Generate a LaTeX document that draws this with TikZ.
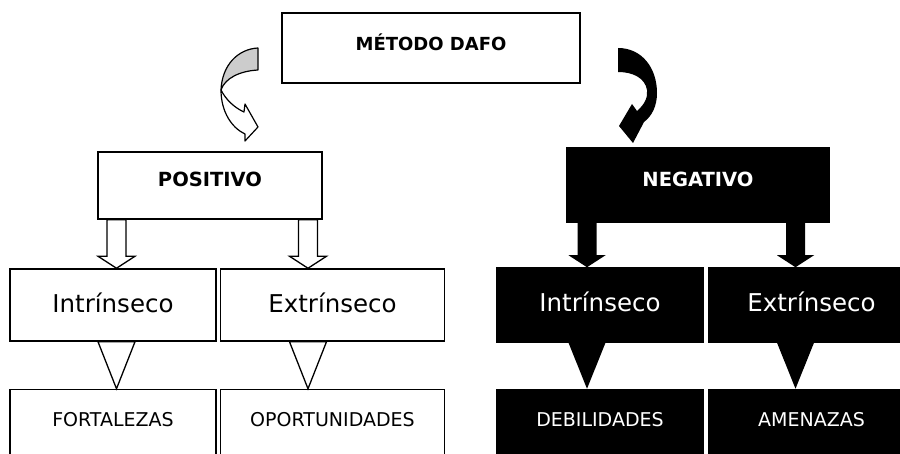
\documentclass[tikz,border=0pt]{standalone}
\usepackage{fontspec}
\setmainfont{DejaVu Sans}
\usetikzlibrary{positioning,calc}

\tikzset{
 wbox/.style={draw,line width=1.5pt,fill=white,inner sep=0pt},
 bbox/.style={draw=black,line width=1.5pt,fill=black,text=white,inner sep=0pt},
 midbox/.style={minimum width=206pt,minimum height=72pt,text height=44pt,text depth=28pt,font=\fontsize{24.5}{28}\selectfont},
 lowbox/.style={minimum width=206pt,text height=37pt,text depth=45pt,font=\fontsize{19}{22}\selectfont},
 topbox/.style={font=\fontsize{19.5}{23}\selectfont\bfseries},
 hollow/.style={draw,line width=1.3pt,fill=white},
 blk/.style={fill=black},
 curvy/.style={draw,line width=1.2pt,line join=round}
}

\newcommand{\fatarrow}[4]{%
 \path[#1] let \p1=(#2.south), \p2=(#3.north) in
 ({#4pt-9.5pt},\y1) -- ({#4pt-9.5pt},{\y2+12pt}) -- ({#4pt-18.5pt},{\y2+12pt}) -- (#4pt,\y2)
 -- ({#4pt+18.5pt},{\y2+12pt}) -- ({#4pt+9.5pt},{\y2+12pt}) -- ({#4pt+9.5pt},\y1) -- cycle;}
\newcommand{\wedgearrow}[4]{%
 \path[#1] let \p1=(#2.south), \p2=(#3.north) in
 ({#4pt-18.5pt},\y1) -- ({#4pt+18.5pt},\y1) -- (#4pt,\y2) -- cycle;}

\begin{document}
\begin{tikzpicture}[x=1pt,y=-1pt]
 \useasboundingbox (0,0) rectangle (900,454);
 \clip (0,0) rectangle (900,454);

 \node[wbox,topbox,minimum width=298pt,text height=38pt,text depth=32pt,font=\fontsize{18}{21}\selectfont\bfseries] (dafo) at (431,48) {MÉTODO DAFO};
 \node[wbox,topbox,minimum width=224pt,text height=35pt,text depth=32pt] (pos) at (210,185.5) {POSITIVO};
 \node[bbox,topbox,minimum width=262pt,text height=39pt,text depth=35pt] (neg) at (698,185) {NEGATIVO};

 \node[wbox,midbox] (pint) at (113,305) {Intrínseco};
 \node[wbox,midbox,minimum width=224pt] (pext) [right=3pt of pint] {Extrínseco};
 \node[bbox,midbox,text depth=30pt] (nint) at (600,305) {Intrínseco};
 \node[bbox,midbox,text depth=30pt] (next) [right=4pt of nint] {Extrínseco};

 \node[wbox,lowbox] (pfor) [below=47pt of pint] {FORTALEZAS};
 \node[wbox,lowbox,minimum width=224pt] (popo) [below=47pt of pext] {OPORTUNIDADES};
 \node[bbox,lowbox] (ndeb) [below=46pt of nint] {DEBILIDADES};
 \node[bbox,lowbox] (name) [below=46pt of next] {AMENAZAS};

 \fatarrow{hollow}{pos}{pint}{116.5}
 \fatarrow{hollow}{pos}{pext}{308}
 \fatarrow{blk}{neg}{nint}{587}
 \fatarrow{blk}{neg}{next}{795.5}

 \wedgearrow{hollow}{pint}{pfor}{116.5}
 \wedgearrow{hollow}{pext}{popo}{308}
 \wedgearrow{blk}{nint}{ndeb}{587}
 \wedgearrow{blk}{next}{name}{795.5}

 % curved arrows
 \path[curvy,fill=gray!40] (258,48) .. controls (238,49) and (222,65) .. (221,90)
 .. controls (225,78) and (240,71) .. (258,70) -- cycle;
 \path[curvy,fill=white] (221,90) .. controls (221,112) and (232,128) .. (245,134) -- (245,141)
 -- (258,127) -- (245,104) -- (244,112) .. controls (235,108) and (226,100) .. (221,90) -- cycle;
 \fill (618,48) .. controls (642,48) and (657,68) .. (657,93) .. controls (657,106) and (652,116) .. (644,122)
 -- (633,143) -- (619,126) -- (632,104) -- (637,111) .. controls (645,104) and (648,97) .. (647,90)
 .. controls (645,78) and (633,72) .. (618,72) -- cycle;
\end{tikzpicture}
\end{document}
